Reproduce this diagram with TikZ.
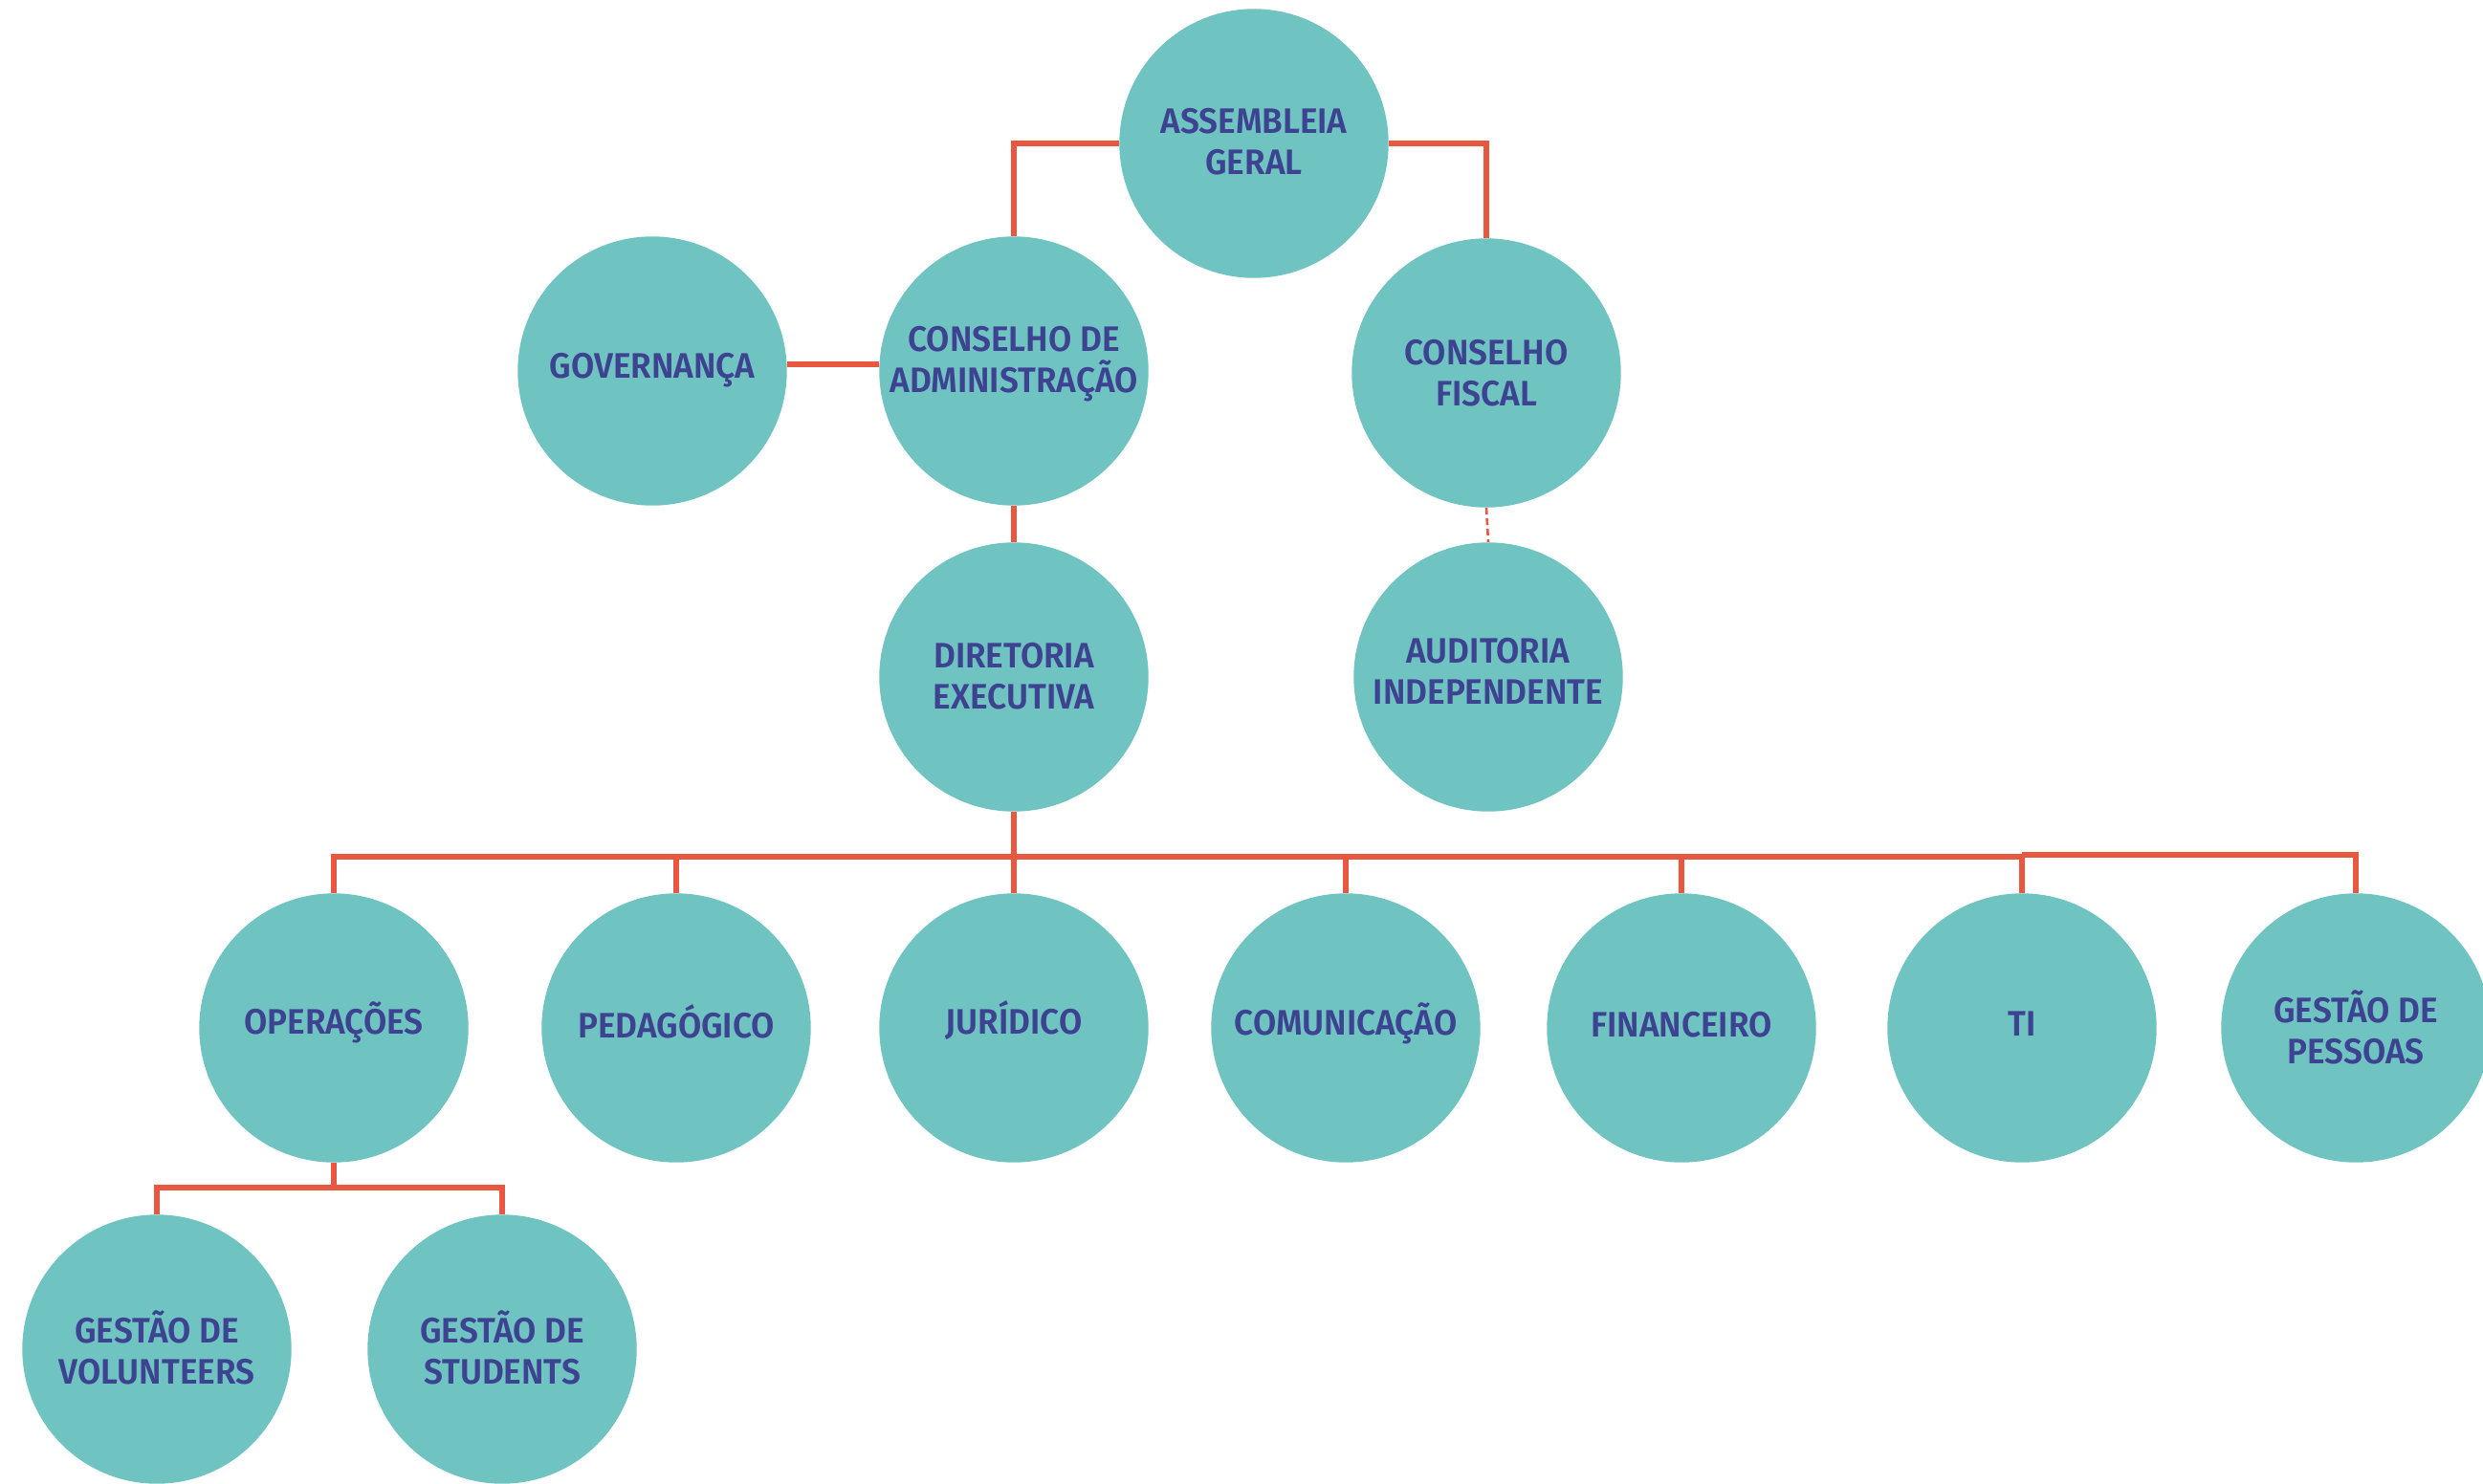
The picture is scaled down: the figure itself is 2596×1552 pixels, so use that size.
\documentclass[tikz,border=0pt]{standalone}
\usepackage{fontspec}
\newfontfamily\lblfont{Fira Sans}[FakeStretch=0.95,BoldFont={Fira Sans SemiBold}]
\definecolor{teal1}{HTML}{6FC4C2}
\definecolor{ink}{HTML}{3E4391}
\definecolor{wire}{HTML}{E8573F}
\begin{document}
\begin{tikzpicture}[x=0.5pt,y=-0.5pt,
  org/.style={circle,fill=teal1,minimum size=140.7pt,inner sep=0pt,text depth=#1,
    text=ink,align=center,font=\lblfont\bfseries\fontsize{18.5}{21.5}\selectfont},
  org/.default=4pt,
  conn/.style={draw=wire,line width=2.6pt},
  dconn/.style={draw=wire,line width=1.3pt,dash pattern=on 3.5pt off 2pt}]
\useasboundingbox (0,0) rectangle (2596,1552);
\node[org=2.3pt] (AG) at (1311,150) {ASSEMBLEIA\\GERAL};
\node[org=12.3pt] (CA) at (1060,388) {CONSELHO DE\\ADMINISTRAÇÃO};
\node[org=5.7pt] (GOV) at (682,388) {GOVERNANÇA};
\node[org=-1pt] (CF) at (1554,390) {CONSELHO\\FISCAL};
\node[org=0.7pt] (DIR) at (1060,708) {DIRETORIA\\EXECUTIVA};
\node[org=5.7pt] (AUD) at (1556,708) {AUDITORIA\\INDEPENDENTE};
\node[org=10.6pt] (OPS) at (349,1075) {OPERAÇÕES};
\node[org=7.3pt] (PED) at (707,1075) {PEDAGÓGICO};
\node[org=10.6pt] (JUR) at (1060,1075) {JURÍDICO};
\node[org=9pt] (COM) at (1407,1075) {COMUNICAÇÃO};
\node[org] (FIN) at (1758,1075) {FINANCEIRO};
\node[org] (TI) at (2114,1075) {TI};
\node[org=0.7pt] (GP) at (2463,1075) {GESTÃO DE\\PESSOAS};
\node[org=2.3pt] (VOL) at (164,1411) {GESTÃO DE\\VOLUNTEERS};
\node[org=2.3pt] (STU) at (525,1411) {GESTÃO DE\\STUDENTS};
\coordinate (bus) at (0,896);
\coordinate (bus2) at (0,894);
\coordinate (bus3) at (0,1242);
\coordinate (gl) at (0,381);
\draw[conn] (AG.west) -| (CA.north);
\draw[conn] (AG.east) -| (CF.north);
\draw[conn] (GOV.east |- gl) -- (CA.west |- gl);
\draw[conn] (CA.south) -- (DIR.north);
\draw[dconn] (CF.south) -- (AUD.north);
\draw[conn] (DIR.south) -- (DIR.south |- bus);
\draw[conn] (OPS.north) -- (OPS.north |- bus) -- (TI.north |- bus) -- (TI.north);
\foreach \n in {PED,JUR,COM,FIN} \draw[conn] (\n.north) -- (\n.north |- bus);
\draw[conn] (TI.north |- bus2) -- (GP.north |- bus2) -- (GP.north);
\draw[conn] (OPS.south) -- (OPS.south |- bus3);
\draw[conn] (VOL.north) -- (VOL.north |- bus3) -- (STU.north |- bus3) -- (STU.north);
\end{tikzpicture}
\end{document}
